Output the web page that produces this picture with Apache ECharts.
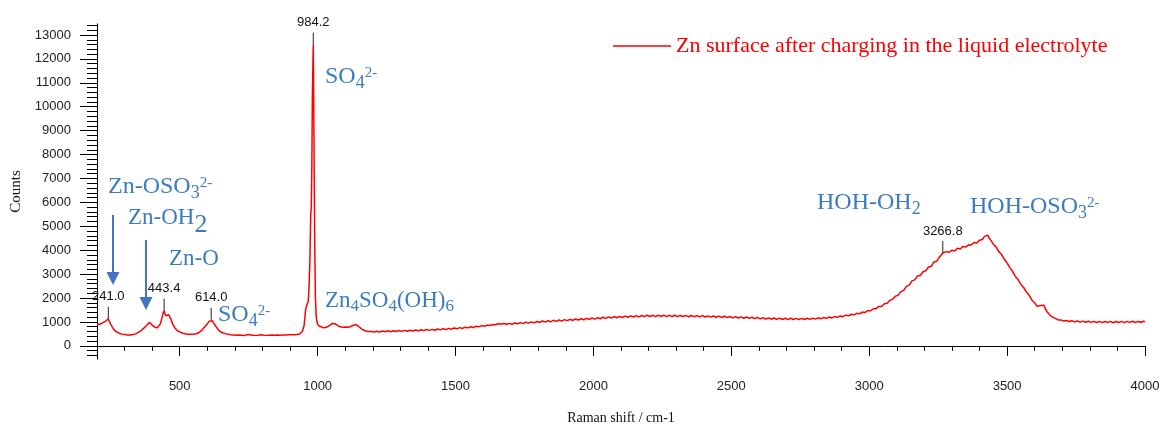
<!DOCTYPE html>
<html>
<head>
<meta charset="utf-8">
<title>Raman spectrum – Zn surface after charging</title>
<script src="https://cdn.jsdelivr.net/npm/echarts@6/dist/echarts.min.js"></script>
<style>
  html, body { margin: 0; padding: 0; background: #fff; }
  #chart { width: 1162px; height: 426px; }
</style>
</head>
<body>
<div id="chart"></div>
<script>
// Raman spectrum, [shift (cm-1), counts]
const spectrum = [
  [200, 910], [205, 930], [210, 905], [215, 940], [220, 960], [225, 985], [230, 1020], [235, 1080],
  [241, 1130], [245, 1020], [250, 900], [255, 790], [260, 700], [265, 640], [270, 590], [275, 560],
  [280, 530], [285, 515], [290, 490], [295, 480], [300, 470], [305, 462], [310, 450], [315, 458],
  [320, 455], [325, 462], [330, 470], [335, 488], [340, 500], [345, 530], [350, 560], [355, 600],
  [360, 640], [365, 690], [370, 740], [375, 800], [380, 860], [386, 940], [390, 980], [395, 930],
  [400, 870], [405, 820], [410, 780], [415, 790], [420, 760], [425, 800], [430, 930], [435, 1150],
  [440, 1380], [443.4, 1470], [446, 1350], [450, 1260], [455, 1240], [460, 1300], [464, 1260], [468, 1120],
  [472, 980], [477, 850], [482, 760], [486, 700], [490, 650], [495, 610], [500, 580], [505, 555],
  [510, 530], [515, 520], [520, 505], [525, 498], [530, 490], [535, 480], [540, 485], [545, 478],
  [550, 490], [555, 495], [560, 505], [565, 530], [570, 560], [575, 600], [580, 650], [585, 720],
  [590, 790], [595, 860], [600, 920], [604, 990], [607, 1030], [611, 1070], [614, 1090], [618, 1050],
  [621, 990], [624, 940], [627, 880], [630, 830], [634, 760], [638, 700], [641, 650], [645, 610],
  [650, 575], [655, 545], [660, 525], [665, 510], [670, 500], [675, 490], [680, 482], [685, 462],
  [690, 488], [695, 455], [700, 478], [705, 448], [710, 475], [715, 452], [720, 470], [725, 440],
  [730, 472], [735, 435], [740, 462], [745, 470], [750, 438], [755, 460], [760, 475], [765, 445],
  [770, 468], [775, 438], [780, 470], [785, 445], [790, 432], [795, 462], [800, 478], [805, 448],
  [810, 465], [815, 438], [820, 475], [825, 445], [830, 480], [835, 452], [840, 470], [845, 442],
  [850, 478], [855, 455], [860, 485], [865, 448], [870, 488], [875, 458], [880, 490], [885, 455],
  [890, 492], [895, 462], [900, 495], [905, 460], [910, 488], [915, 468], [920, 498], [925, 475],
  [930, 500], [935, 495], [939, 520], [942, 560], [945, 610], [948, 680], [951, 850], [953, 1100],
  [956, 1450], [958, 1600], [962, 1750], [966, 1850], [969, 2500], [972, 3600], [975, 5500], [977, 5800],
  [979, 7500], [981, 10500], [984.2, 12600], [986, 10000], [988, 6500], [990, 3800], [992, 2000], [995, 1200],
  [999, 920], [1005, 830], [1012, 780], [1020, 760], [1028, 770], [1036, 800], [1044, 860], [1052, 930],
  [1058, 950], [1064, 920], [1070, 860], [1078, 810], [1086, 790], [1094, 780], [1102, 790], [1110, 780],
  [1118, 800], [1126, 840], [1132, 880], [1138, 900], [1144, 870], [1150, 800], [1158, 720], [1166, 660],
  [1175, 620], [1185, 600], [1195, 600], [1205, 582], [1215, 608], [1225, 575], [1235, 620], [1245, 590],
  [1255, 628], [1265, 592], [1275, 632], [1285, 600], [1295, 640], [1305, 605], [1315, 648], [1325, 612],
  [1335, 655], [1345, 618], [1355, 665], [1365, 630], [1375, 672], [1385, 636], [1395, 682], [1405, 648],
  [1415, 690], [1425, 652], [1435, 705], [1445, 668], [1455, 718], [1465, 680], [1475, 732], [1485, 698],
  [1495, 748], [1505, 712], [1515, 762], [1525, 728], [1535, 780], [1545, 752], [1555, 800], [1565, 768],
  [1575, 822], [1585, 795], [1595, 848], [1605, 822], [1615, 868], [1625, 852], [1635, 890], [1645, 882],
  [1655, 925], [1665, 915], [1675, 935], [1685, 900], [1695, 940], [1705, 905], [1715, 958], [1725, 925],
  [1735, 970], [1745, 930], [1755, 992], [1765, 950], [1775, 1002], [1785, 962], [1795, 1018], [1805, 978],
  [1815, 1040], [1825, 992], [1835, 1052], [1845, 1005], [1855, 1068], [1865, 1025], [1875, 1082], [1885, 1035],
  [1895, 1098], [1905, 1055], [1915, 1110], [1925, 1062], [1935, 1122], [1945, 1080], [1955, 1135], [1965, 1090],
  [1975, 1152], [1985, 1105], [1995, 1168], [2005, 1115], [2015, 1180], [2025, 1132], [2035, 1195], [2045, 1150],
  [2055, 1210], [2065, 1162], [2075, 1225], [2085, 1175], [2095, 1232], [2105, 1185], [2115, 1245], [2125, 1195],
  [2135, 1255], [2145, 1205], [2155, 1265], [2165, 1212], [2175, 1270], [2185, 1222], [2195, 1278], [2205, 1228],
  [2215, 1280], [2225, 1225], [2235, 1278], [2245, 1230], [2255, 1282], [2265, 1225], [2275, 1275], [2285, 1230],
  [2295, 1280], [2305, 1222], [2315, 1272], [2325, 1225], [2335, 1275], [2345, 1215], [2355, 1268], [2365, 1220],
  [2375, 1265], [2385, 1210], [2395, 1262], [2405, 1208], [2415, 1255], [2425, 1202], [2435, 1250], [2445, 1198],
  [2455, 1245], [2465, 1188], [2475, 1240], [2485, 1180], [2495, 1228], [2505, 1172], [2515, 1222], [2525, 1165],
  [2535, 1212], [2545, 1155], [2555, 1205], [2565, 1148], [2575, 1195], [2585, 1138], [2595, 1188], [2605, 1130],
  [2615, 1178], [2625, 1122], [2635, 1172], [2645, 1115], [2655, 1165], [2665, 1108], [2675, 1160], [2685, 1102],
  [2695, 1155], [2705, 1098], [2715, 1152], [2725, 1100], [2735, 1148], [2745, 1095], [2755, 1150], [2765, 1100],
  [2775, 1152], [2785, 1105], [2795, 1160], [2805, 1118], [2815, 1172], [2825, 1130], [2835, 1188], [2845, 1148],
  [2855, 1205], [2865, 1168], [2875, 1225], [2885, 1192], [2895, 1252], [2905, 1218], [2915, 1285], [2925, 1255],
  [2935, 1322], [2945, 1298], [2955, 1362], [2965, 1340], [2975, 1412], [2985, 1395], [2995, 1472], [3005, 1468],
  [3015, 1552], [3025, 1555], [3035, 1648], [3045, 1645], [3055, 1762], [3065, 1780], [3075, 1905], [3085, 1945],
  [3095, 2075], [3105, 2120], [3115, 2268], [3125, 2320], [3135, 2488], [3145, 2540], [3155, 2718], [3165, 2760],
  [3175, 2918], [3185, 2940], [3195, 3100], [3205, 3140], [3215, 3300], [3225, 3330], [3235, 3510], [3245, 3540],
  [3255, 3720], [3260, 3740], [3266.8, 3880], [3272, 3840], [3280, 3940], [3290, 3915], [3300, 4000], [3310, 3970],
  [3320, 4080], [3330, 4050], [3340, 4160], [3350, 4130], [3360, 4230], [3370, 4220], [3380, 4320], [3390, 4300],
  [3400, 4420], [3410, 4450], [3418, 4580], [3424, 4520], [3430, 4630], [3436, 4490], [3442, 4400], [3450, 4250],
  [3460, 4140], [3470, 3940], [3480, 3820], [3490, 3620], [3500, 3470], [3510, 3270], [3520, 3110], [3530, 2900],
  [3540, 2770], [3550, 2570], [3560, 2440], [3570, 2250], [3580, 2120], [3590, 1910], [3600, 1800], [3608, 1660],
  [3615, 1640], [3622, 1690], [3628, 1740], [3634, 1700], [3640, 1510], [3647, 1390], [3655, 1290], [3665, 1200],
  [3675, 1150], [3685, 1085], [3695, 1085], [3705, 1035], [3715, 1062], [3725, 1018], [3735, 1050], [3745, 1002],
  [3755, 1040], [3765, 992], [3775, 1035], [3785, 985], [3795, 1030], [3805, 982], [3815, 1025], [3825, 975],
  [3835, 1022], [3845, 972], [3855, 1020], [3865, 980], [3875, 1025], [3885, 965], [3895, 1018], [3905, 978],
  [3915, 1022], [3925, 970], [3935, 1025], [3945, 982], [3955, 1028], [3965, 975], [3975, 1022], [3985, 988],
  [3995, 1030], [4000, 1010]
];

// Labelled peak maxima
const peakShift  = [241.0, 443.4, 614.0, 984.2, 3266.8];
const peakCounts = [1130, 1470, 1090, 12600, 3880];

// Axis ticks
const xMajorTicks = [500, 1000, 1500, 2000, 2500, 3000, 3500, 4000];
const xMinorTicks = [];
for (let v = 300; v < 4000; v += 100) if (v % 500 !== 0) xMinorTicks.push(v);
const yMajorTicks = [0, 1000, 2000, 3000, 4000, 5000, 6000, 7000, 8000, 9000, 10000, 11000, 12000, 13000];
const yMinorTicks = [];
for (let v = -400; v <= 13400; v += 200) if (v % 1000 !== 0) yMinorTicks.push(v);

// Band assignments (rich text markup)
const bandLabels = [
  '{m|SO}{sub|4}{sup|2-}',
  '{m|Zn-OSO}{sub|3}{sup|2-}',
  '{s|Zn-OH}{big|2}',
  '{s|Zn-O}',
  '{m|SO}{sub|4}{sup|2-}',
  '{s|Zn}{ssub|4}{s|SO}{ssub|4}{s|(OH)}{ssub|6}',
  '{m|HOH-OH}{sub|2}',
  '{m|HOH-OSO}{sub|3}{sup|2-}'
];

const seriesName = 'Zn surface after charging in the liquid electrolyte';

const BLUE = '#3b7cc0';
const SERIF = '"Liberation Serif", "Times New Roman", serif';
const SANS = '"Liberation Sans", Arial, sans-serif';
const LH = 32;
const rich = {
  m:    { fontSize: 24, fontFamily: SERIF, color: BLUE, lineHeight: LH },
  s:    { fontSize: 23, fontFamily: SERIF, color: BLUE, lineHeight: LH },
  sub:  { fontSize: 18, fontFamily: SERIF, color: BLUE, lineHeight: LH, verticalAlign: 'bottom', height: 19 },
  ssub: { fontSize: 17, fontFamily: SERIF, color: BLUE, lineHeight: LH, verticalAlign: 'bottom', height: 19 },
  sup:  { fontSize: 15, fontFamily: SERIF, color: BLUE, lineHeight: LH, verticalAlign: 'top', height: 24 },
  big:  { fontSize: 26, fontFamily: SERIF, color: BLUE, lineHeight: LH, verticalAlign: 'bottom', height: 17 }
};

// Anchor points (left edge, vertical centre of main text) for each band label
const labelAnchors = [[325, 77], [108, 187], [128, 222], [169, 263], [218, 315], [325, 305], [817, 207], [970, 207]];

function bandText(i) {
  return {
    type: 'text',
    left: labelAnchors[i][0],
    top: labelAnchors[i][1] - LH / 2,
    z: 50,
    style: {
      text: bandLabels[i],
      rich: rich,
      fill: BLUE,
      font: '24px ' + SERIF
    }
  };
}

function arrow(x, y0, y1) {
  return {
    type: 'group',
    z: 50,
    children: [
      { type: 'line', shape: { x1: x, y1: y0, x2: x, y2: y1 - 12 }, style: { stroke: '#4472c4', lineWidth: 2 } },
      { type: 'polygon', shape: { points: [[x - 6.5, y1 - 13], [x + 6.5, y1 - 13], [x, y1]] }, style: { fill: '#4472c4' } }
    ]
  };
}

const chart = echarts.init(document.getElementById('chart'), null, { renderer: 'canvas' });

const axisLineStyle = { color: '#000', width: 1 };
const plainNumber = v => String(v);

chart.setOption({
  animation: false,
  backgroundColor: '#fff',
  grid: { left: 97, right: 17, top: 24, bottom: 67, containLabel: false, outerBoundsMode: 'none' },
  legend: {
    left: 608,
    top: 30,
    itemWidth: 58,
    itemHeight: 2,
    data: [{ name: seriesName, icon: 'rect', itemStyle: { color: '#ff4040' } }],
    textStyle: { color: '#ff0000', fontSize: 22, fontFamily: SERIF },
    selectedMode: false
  },
  xAxis: [
    {
      type: 'value', min: 200, max: 4000, position: 'bottom',
      name: 'Raman shift / cm-1', nameLocation: 'middle', nameGap: 52,
      nameTextStyle: { fontFamily: SERIF, fontSize: 14, color: '#111' },
      axisLine: { show: true, lineStyle: axisLineStyle },
      axisTick: { show: true, customValues: xMajorTicks, length: 10, lineStyle: { color: '#000' } },
      axisLabel: { customValues: xMajorTicks, formatter: plainNumber, margin: 21, fontFamily: SANS, fontSize: 13, color: '#222' },
      splitLine: { show: false }
    },
    {
      type: 'value', min: 200, max: 4000, position: 'bottom',
      axisLine: { show: false },
      axisTick: { show: true, customValues: xMinorTicks, length: 5, lineStyle: { color: '#000' } },
      axisLabel: { show: false },
      splitLine: { show: false }
    }
  ],
  yAxis: [
    {
      type: 'value', min: -550, max: 13460, position: 'left',
      name: 'Counts', nameLocation: 'middle', nameGap: 64,
      nameTextStyle: { fontFamily: SERIF, fontSize: 15, color: '#111' },
      axisLine: { show: true, lineStyle: axisLineStyle },
      axisTick: { show: true, customValues: yMajorTicks, length: 17, lineStyle: { color: '#000' } },
      axisLabel: { customValues: yMajorTicks, formatter: plainNumber, margin: 26, fontFamily: SANS, fontSize: 13, color: '#222' },
      splitLine: { show: false }
    },
    {
      type: 'value', min: -550, max: 13460, position: 'left',
      axisLine: { show: false },
      axisTick: { show: true, customValues: yMinorTicks, length: 10, lineStyle: { color: '#000' } },
      axisLabel: { show: false },
      splitLine: { show: false }
    }
  ],
  series: [
    {
      name: seriesName,
      type: 'line',
      xAxisIndex: 0,
      yAxisIndex: 0,
      data: spectrum,
      showSymbol: false,
      symbol: 'none',
      sampling: false,
      lineStyle: { color: '#ff0000', width: 1.5 },
      itemStyle: { color: '#ff0000' },
      z: 3
    },
    {
      name: 'peaks',
      type: 'custom',
      xAxisIndex: 0,
      yAxisIndex: 0,
      data: peakShift.map((x, i) => [x, peakCounts[i]]),
      clip: false,
      z: 10,
      renderItem: function (params, api) {
        const p = api.coord([api.value(0), api.value(1)]);
        return {
          type: 'group',
          children: [
            { type: 'line', shape: { x1: p[0], y1: p[1], x2: p[0], y2: p[1] - 12 }, style: { stroke: '#222', lineWidth: 1 } },
            {
              type: 'text',
              style: {
                text: api.value(0).toFixed(1),
                x: p[0], y: p[1] - 15.5,
                align: 'center', verticalAlign: 'bottom',
                textAlign: 'center', textVerticalAlign: 'bottom',
                font: '13px ' + SANS,
                fill: '#111'
              }
            }
          ]
        };
      }
    }
  ],
  graphic: bandLabels.map((t, i) => bandText(i)).concat([
    arrow(113, 215, 285),
    arrow(146, 240, 310)
  ])
});
</script>
</body>
</html>
